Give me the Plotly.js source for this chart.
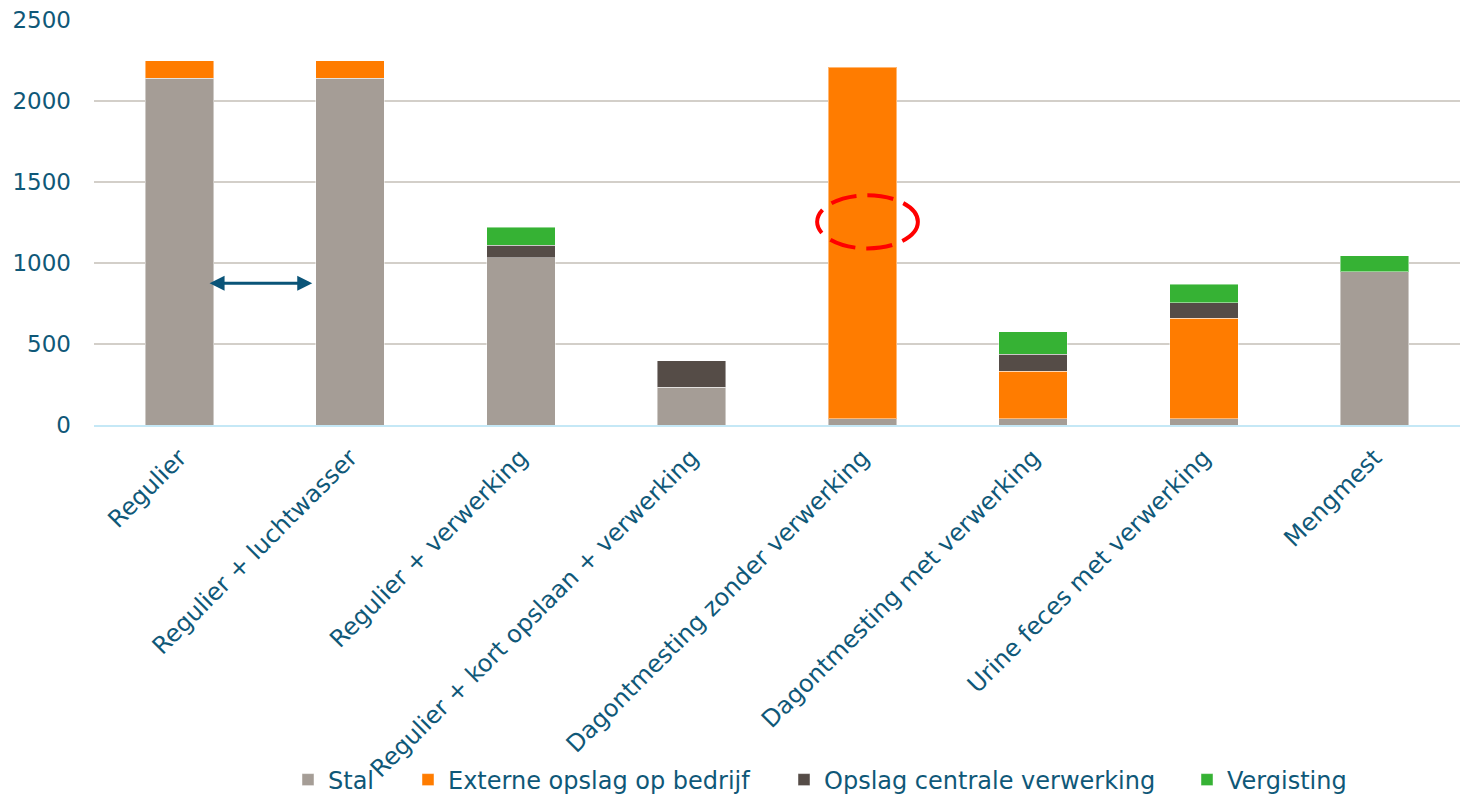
<!DOCTYPE html>
<html>
<head>
<meta charset="utf-8">
<script src="https://cdn.plot.ly/plotly-3.0.1.min.js"></script>
<style>
  html, body { margin: 0; padding: 0; background: #ffffff; }
  #chart { width: 1460px; height: 794px; }
</style>
</head>
<body>
<div id="chart"></div>
<script>
// ---- Data ----
var categories = [
  "Regulier",
  "Regulier + luchtwasser",
  "Regulier + verwerking",
  "Regulier + kort opslaan + verwerking",
  "Dagontmesting zonder verwerking",
  "Dagontmesting met verwerking",
  "Urine feces met verwerking",
  "Mengmest"
];
var seriesNames = ["Stal", "Externe opslag op bedrijf", "Opslag centrale verwerking", "Vergisting"];
var stal      = [2140, 2140, 1032, 233, 40, 40, 40, 946];
var externe   = [110, 110, null, null, 2167, 292, 618, null];
var opslag    = [null, null, 78, 165, null, 105, 96, null];
var vergisting= [null, null, 111, null, null, 140, 115, 100];
var yTicks = [0, 500, 1000, 1500, 2000, 2500];

// ---- Style ----
var txtColor = "#0F5878";
var fontFam = "'DejaVu Sans', Verdana, sans-serif";
var colors = ["#A59D96", "#FF7C00", "#554C47", "#36B234"];
var seriesValues = [stal, externe, opslag, vergisting];

// legend item positions (container px) – one legend per series
var legendLeftPx = [288, 408, 784, 1187];
var legendYpx = 780;
var W = 1460, H = 794;

var traces = seriesNames.map(function (name, i) {
  return {
    type: "bar",
    name: name,
    x: categories,
    y: seriesValues[i],
    marker: { color: colors[i], line: { color: "rgba(255,255,255,0.45)", width: 1 } },
    legend: i === 0 ? "legend" : "legend" + (i + 1),
    hoverinfo: "skip"
  };
});

var layout = {
  width: W,
  height: H,
  paper_bgcolor: "#ffffff",
  plot_bgcolor: "#ffffff",
  font: { family: fontFam, color: txtColor, size: 23 },
  margin: { l: 94, r: 0, t: 20, b: 368.5, pad: 0 },
  barmode: "stack",
  bargap: 0.6,
  xaxis: {
    type: "category",
    tickangle: -45,
    tickfont: { size: 24, color: txtColor, family: fontFam },
    showline: true,
    linecolor: "#C5E8F6",
    linewidth: 2,
    ticks: "",
    showgrid: false,
    zeroline: false,
    automargin: false,
    ticklabelstandoff: 7
  },
  yaxis: {
    range: [0, 2500],
    tickvals: yTicks,
    ticktext: yTicks.map(String),
    tickfont: { size: 23, color: txtColor, family: fontFam },
    showgrid: true,
    gridcolor: "#D3CFC9",
    gridwidth: 1.3,
    zeroline: false,
    showline: false,
    ticks: "",
    automargin: false,
    ticklabelstandoff: 22
  },
  shapes: [
    {
      type: "circle",
      xref: "x", yref: "y",
      x0: 3.735, x1: 4.325, y0: 1090, y1: 1418,
      line: { color: "#FF0000", width: 4, dash: "26px,11px" },
      fillcolor: "rgba(0,0,0,0)"
    }
  ],
  annotations: [
    {
      xref: "x", yref: "y", axref: "x", ayref: "y",
      x: 0.778, y: 875, ax: 0.168, ay: 875,
      text: "",
      showarrow: true,
      arrowside: "end+start",
      arrowhead: 2, startarrowhead: 2,
      arrowsize: 1, startarrowsize: 1,
      arrowwidth: 3,
      arrowcolor: "#0A5478",
      standoff: 0, startstandoff: 0
    }
  ],
  showlegend: true
};

["legend", "legend2", "legend3", "legend4"].forEach(function (key, i) {
  layout[key] = {
    orientation: "h",
    xref: "container", yref: "container",
    x: legendLeftPx[i] / W,
    y: 1 - legendYpx / H,
    xanchor: "left",
    yanchor: "middle",
    font: { size: 24, color: txtColor, family: fontFam },
    bgcolor: "rgba(0,0,0,0)",
    borderwidth: 0,
    itemclick: false
  };
});

Plotly.newPlot("chart", traces, layout, { displayModeBar: false, staticPlot: true });
</script>
</body>
</html>
